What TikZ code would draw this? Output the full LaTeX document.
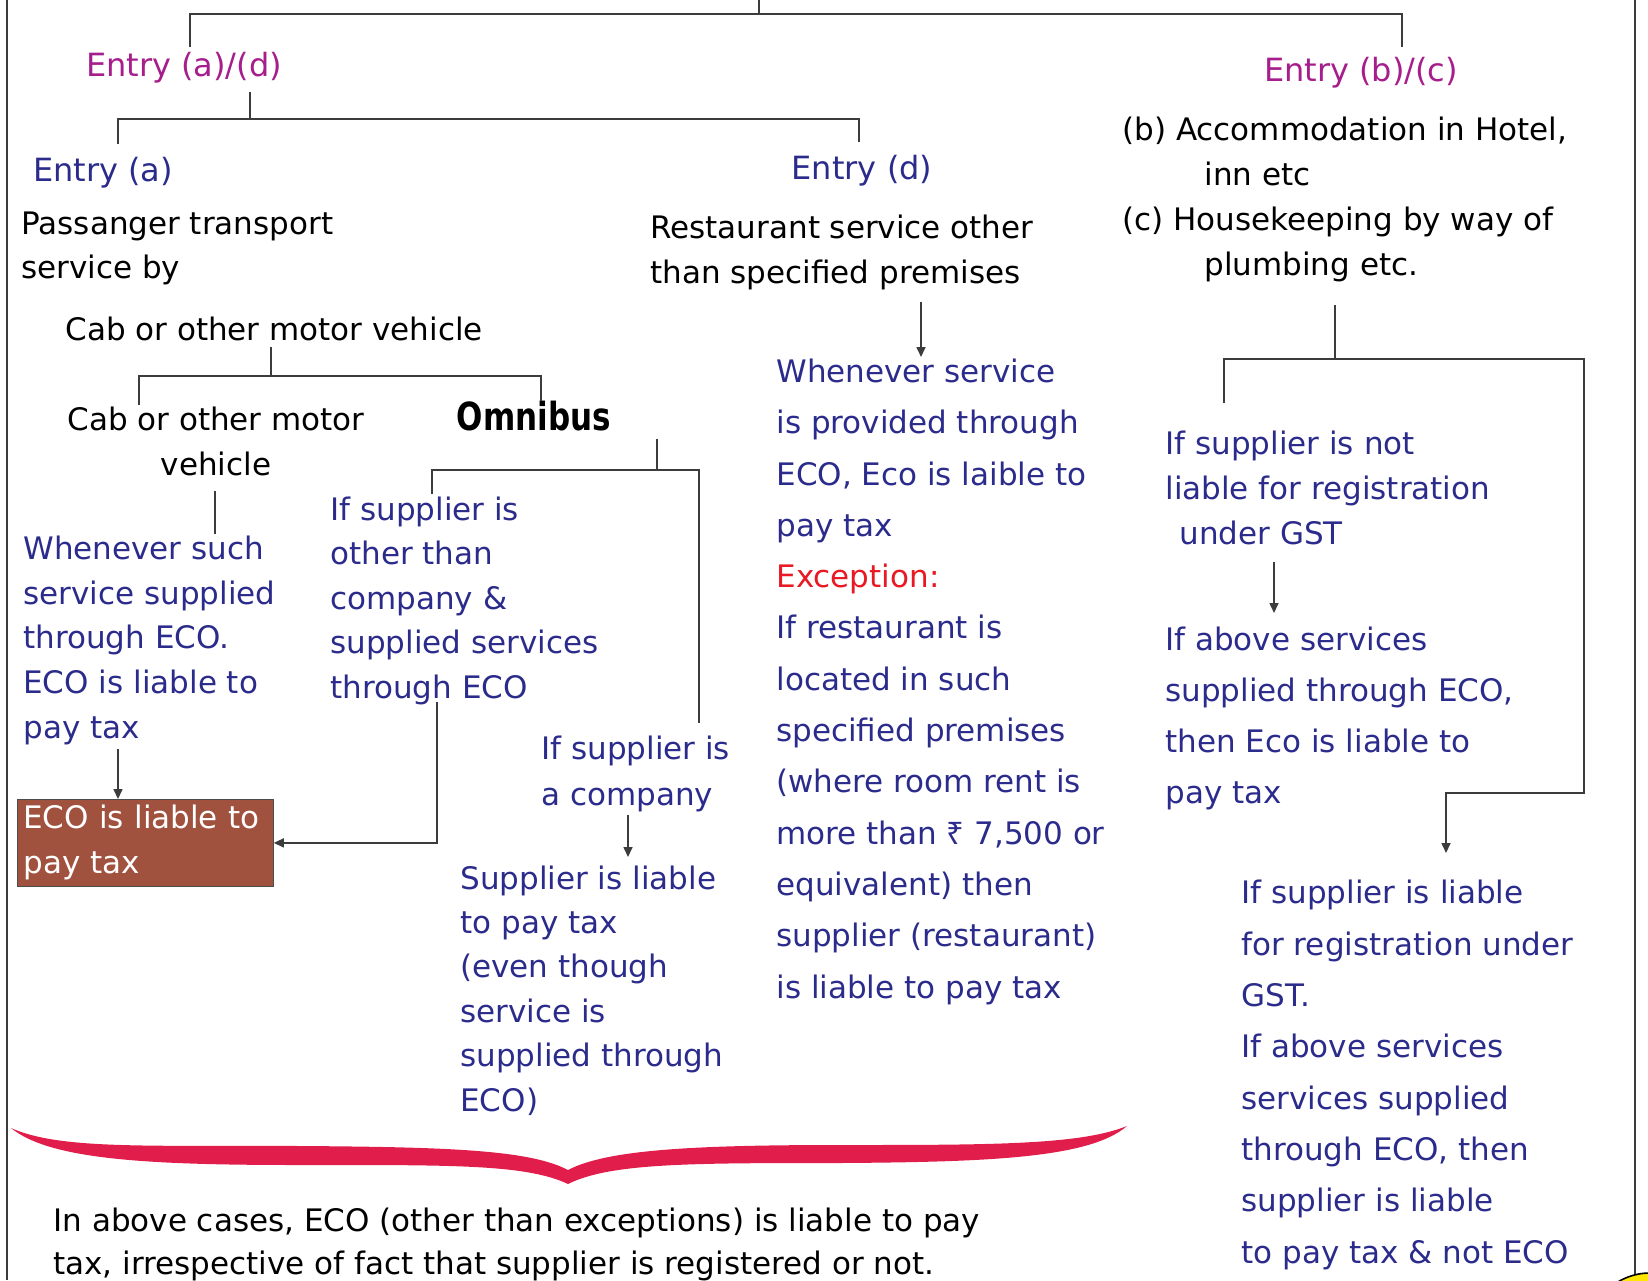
\documentclass[tikz,border=0pt]{standalone}
\usepackage{fontspec}
\usetikzlibrary{arrows.meta}
\setmainfont{DejaVu Sans}
\newfontfamily\rupeefont{Noto Sans}
\definecolor{navy}{RGB}{43,43,140}
\definecolor{entrymag}{RGB}{165,30,140}
\definecolor{excred}{RGB}{232,25,35}
\definecolor{boxbrown}{RGB}{160,82,62}
\definecolor{bracered}{RGB}{225,30,75}
\definecolor{linegray}{RGB}{60,60,60}
\definecolor{sunyellow}{RGB}{255,230,0}

\begin{document}
\begin{tikzpicture}
[x=0.5pt,y=-0.5pt,>={Triangle[length=5pt,width=4.5pt]},%
  every node/.style={inner sep=0pt,anchor=base west,align=left},%
  txt/.style={font=\fontsize{15.5}{#1}\selectfont},%
  entrytitle/.style={anchor=base,font=\fontsize{16}{19}\selectfont},%
  link/.style={draw=linegray,line width=0.8pt},%
  flow/.style={link,->},%
  ecobox/.style={anchor=north west,fill=boxbrown,draw=black!70,text=white,%
    text width=122pt,inner xsep=3pt,minimum height=43.5pt,txt=22.5}]
\useasboundingbox (0,0) rectangle (1648,1280);
\draw[link] (7,0) -- (7,1280);
\draw[link] (1635,0) -- (1635,1280);

\node[entrytitle,text=entrymag] (ad) at (184,76) {Entry (a)/(d)};
\node[entrytitle,text=entrymag] (bc) at (1361,81) {Entry (b)/(c)};
\node[entrytitle,text=navy] (ea) at (103,181) {Entry (a)};
\node[entrytitle,text=navy] (ed) at (862,179) {Entry (d)};
\node[txt=22] (pass) at (21,278) {Passanger transport\\service by};
\node[txt=22] (cabhead) at (65,340) {Cab or other motor vehicle};
\node[txt=22.5,anchor=base,align=center] (cab) at (216,475) {Cab or other motor\\vehicle};
\node[anchor=base,font=\fontsize{15.5}{18}\selectfont\bfseries,yscale=1.25,transform shape]
  (omni) at (534,430) {Omnibus};
\node[txt=22.3,text=navy] (wsuch) at (23,738)
  {Whenever such\\service supplied\\through ECO.\\ECO is liable to\\pay tax};
\node[ecobox] (eco) at (17,799) {ECO is liable to\\pay tax};
\node[txt=22.2,text=navy] (other) at (330,698)
  {If supplier is\\other than\\company \&\\supplied services\\through ECO};
\node[txt=23,text=navy] (comp) at (541,805) {If supplier is\\a company};
\node[txt=22.2,text=navy] (supl) at (460,1111)
  {Supplier is liable\\to pay tax\\(even though\\service is\\supplied through\\ECO)};
\node[txt=22.5] (rest) at (650,283) {Restaurant service other\\than specified premises};
\node[txt=25.65,text=navy] (restco) at (776,998)
  {Whenever service\\is provided through\\ECO, Eco is laible to\\pay tax\\
   {\color{excred}Exception:}\\If restaurant is\\located in such\\specified premises\\
   (where room rent is\\more than {\rupeefont ₹} 7,500 or\\equivalent) then\\
   supplier (restaurant)\\is liable to pay tax};
\node[txt=22.5] (hotel) at (1122,275)
  {(b) Accommodation in Hotel,\\\hspace*{41pt}inn etc\\
   (c) Housekeeping by way of\\\hspace*{41pt}plumbing etc.};
\node[txt=22.3,text=navy] (notreg) at (1165,544)
  {If supplier is not\\liable for registration\\\hspace*{7pt}under GST};
\node[txt=25.5,text=navy] (above) at (1165,803)
  {If above services\\supplied through ECO,\\then Eco is liable to\\pay tax};
\node[txt=25.65,text=navy] (liab) at (1241,1263)
  {If supplier is liable\\for registration under\\GST.\\If above services\\
   services supplied\\through ECO, then\\supplier is liable\\to pay tax \& not ECO};
\node[txt=21.5] (note) at (53,1274)
  {In above cases, ECO (other than exceptions) is liable to pay\\
   tax, irrespective of fact that supplier is registered or not.};

\coordinate (top) at (759,0);
\coordinate (adin) at (190,47);
\coordinate (bcin) at (1402,47);
\coordinate (adout) at (250,92);
\coordinate (eain) at (118,144);
\coordinate (edin) at (859,142);
\coordinate (cabout) at (271,347);
\coordinate (cabin) at (139,405);
\coordinate (omniin) at (541,401);
\coordinate (cabdown) at (215,491);
\coordinate (wsuchin) at (215,534);
\coordinate (wsuchout) at (118,749);
\coordinate (omniout) at (657,439);
\coordinate (otherin) at (432,494);
\coordinate (compin) at (699,723);
\coordinate (otherout) at (437,702);
\coordinate (compout) at (628,815);
\coordinate (restout) at (921,302);
\coordinate (hotelout) at (1335,305);
\coordinate (notregin) at (1224,403);
\coordinate (liabturn) at (1584,793);
\coordinate (liabin) at (1446,853);
\coordinate (notregout) at (1274,562);

\draw[link] (top) -- ++(0,14);
\draw[link] (adin) -- ++(0,-33) -| (bcin);
\draw[link] (adout) -- ++(0,27) coordinate (adbar);
\draw[link] (eain) |- (adbar) -| (edin);
\draw[link] (cabout) -- ++(0,29) coordinate (cabbar);
\draw[link] (cabin) |- (cabbar) -| (omniin);
\draw[link] (cabdown) -- (wsuchin);
\draw[flow] (wsuchout) -- (wsuchout |- eco.north);
\draw[link] (omniout) -- ++(0,31) coordinate (omnibar);
\draw[link] (otherin) |- (omnibar) -| (compin);
\draw[flow] (otherout) |- (eco.east);
\draw[flow] (compout) -- ++(0,42);
\draw[flow] (restout) -- ++(0,55);
\draw[link] (hotelout) -- ++(0,54) coordinate (hotelbar);
\draw[flow] (notregin) |- (hotelbar) -| (liabturn) -| (liabin);
\draw[flow] (notregout) -- ++(0,51);

\fill[bracered] (11,1128) .. controls (60,1150) and (150,1145) .. (300,1146)
  .. controls (450,1147) and (530,1150) .. (568,1170)
  .. controls (606,1150) and (690,1145) .. (840,1145)
  .. controls (990,1145) and (1080,1145) .. (1127,1126)
  .. controls (1090,1158) and (990,1162) .. (840,1163)
  .. controls (690,1163) and (610,1163) .. (568,1184)
  .. controls (526,1164) and (450,1165) .. (300,1165)
  .. controls (150,1165) and (50,1160) .. (11,1128) -- cycle;

\begin{scope}
\clip (0,0) rectangle (1648,1280);
\filldraw[fill=sunyellow,draw=black,line width=0.8pt] (1650,1335) circle[radius=31pt];
\end{scope}
\end{tikzpicture}
\end{document}
